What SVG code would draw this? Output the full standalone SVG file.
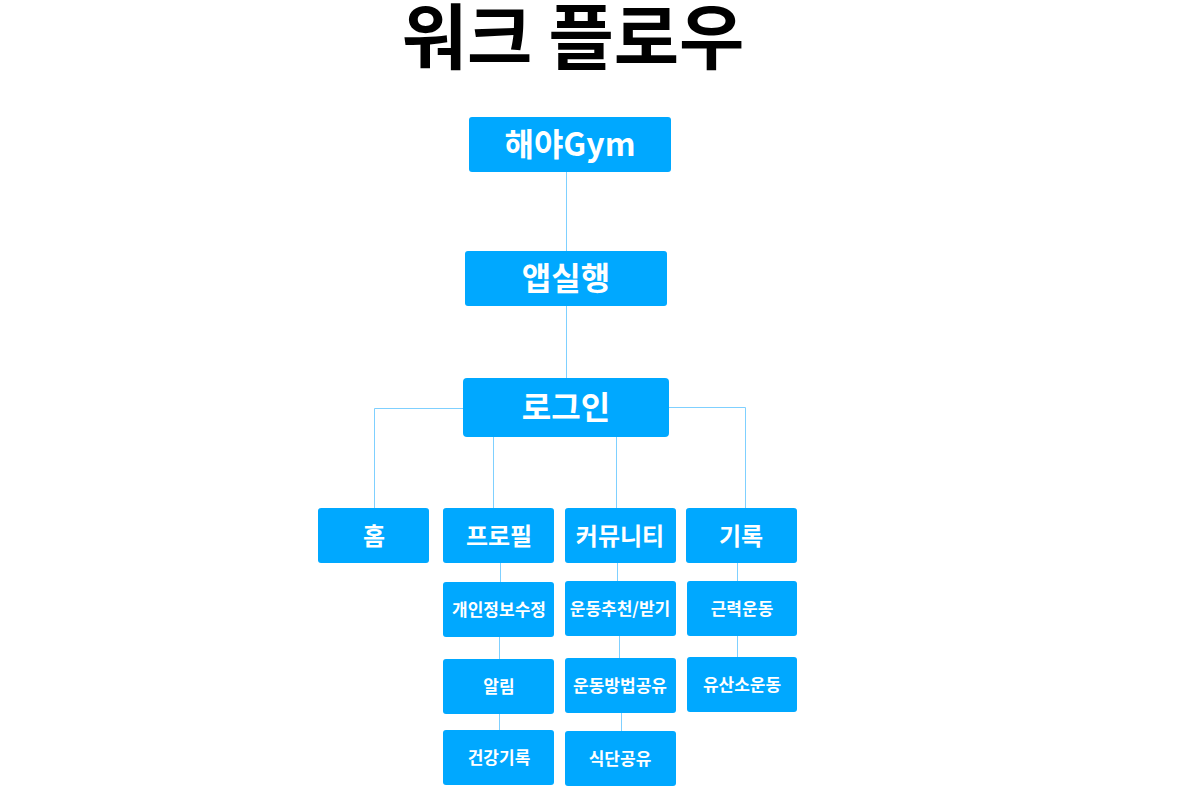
<svg xmlns="http://www.w3.org/2000/svg" width="1200" height="787" viewBox="0 0 1200 787">
<style>
.n{fill:#00A8FF;}
.t{font-family:"Noto Sans CJK KR","Noto Sans",sans-serif;font-weight:bold;fill:#fff;text-anchor:middle;dominant-baseline:central;}
.l{font-size:32px;}
.m{font-size:24px;}
.s{font-size:17px;}
.c{stroke:#7FD0FF;stroke-width:1;fill:none;}
</style>
<rect width="1200" height="787" fill="#fff"/>
<text x="573" y="32" font-family="'Noto Sans CJK KR','Noto Sans',sans-serif" font-weight="bold" font-size="71" text-anchor="middle" dominant-baseline="central" fill="#000">워크 플로우</text>
<g id="connectors">
<path class="c" d="M566.5 172V251M566.5 306V378M463 408.5H374.5V508M669 407.5H745.5V508M493.5 437V508M616.5 437V508M500.5 563V582M499.5 637V659M499.5 714V730M617.5 563V581M619.5 636V658M621.5 713V731M737.5 563V581M737.5 636V657"/>
</g>
<g id="n-gym"><rect class="n" x="469" y="117" width="202" height="55" rx="3"/><text class="t l" x="570" y="142">해야Gym</text></g>
<g id="n-app"><rect class="n" x="465" y="251" width="202" height="55" rx="3"/><text class="t l" x="566" y="276">앱실행</text></g>
<g id="n-login"><rect class="n" x="463" y="378" width="206" height="59" rx="4"/><text class="t l" x="566" y="405">로그인</text></g>
<g id="n-home"><rect class="n" x="318" y="508" width="111" height="55" rx="3"/><text class="t m" x="374" y="534">홈</text></g>
<g id="n-profile"><rect class="n" x="443" y="508" width="111" height="55" rx="3"/><text class="t m" x="499" y="534">프로필</text></g>
<g id="n-community"><rect class="n" x="565" y="508" width="111" height="55" rx="3"/><text class="t m" x="620" y="534">커뮤니티</text></g>
<g id="n-record"><rect class="n" x="686" y="508" width="111" height="55" rx="3"/><text class="t m" x="741" y="534">기록</text></g>
<g id="n-edit"><rect class="n" x="443" y="582" width="111" height="55" rx="3"/><text class="t s" x="499" y="608">개인정보수정</text></g>
<g id="n-alarm"><rect class="n" x="443" y="659" width="111" height="55" rx="3"/><text class="t s" x="499" y="685">알림</text></g>
<g id="n-health"><rect class="n" x="443" y="730" width="111" height="55" rx="3"/><text class="t s" x="499" y="756">건강기록</text></g>
<g id="n-recommend"><rect class="n" x="565" y="581" width="111" height="55" rx="3"/><text class="t s" x="620" y="607">운동추천/받기</text></g>
<g id="n-method"><rect class="n" x="565" y="658" width="111" height="55" rx="3"/><text class="t s" x="620" y="684">운동방법공유</text></g>
<g id="n-diet"><rect class="n" x="565" y="731" width="111" height="55" rx="3"/><text class="t s" x="620" y="757">식단공유</text></g>
<g id="n-strength"><rect class="n" x="687" y="581" width="110" height="55" rx="3"/><text class="t s" x="742" y="607">근력운동</text></g>
<g id="n-cardio"><rect class="n" x="687" y="657" width="110" height="55" rx="3"/><text class="t s" x="742" y="683">유산소운동</text></g>
</svg>
